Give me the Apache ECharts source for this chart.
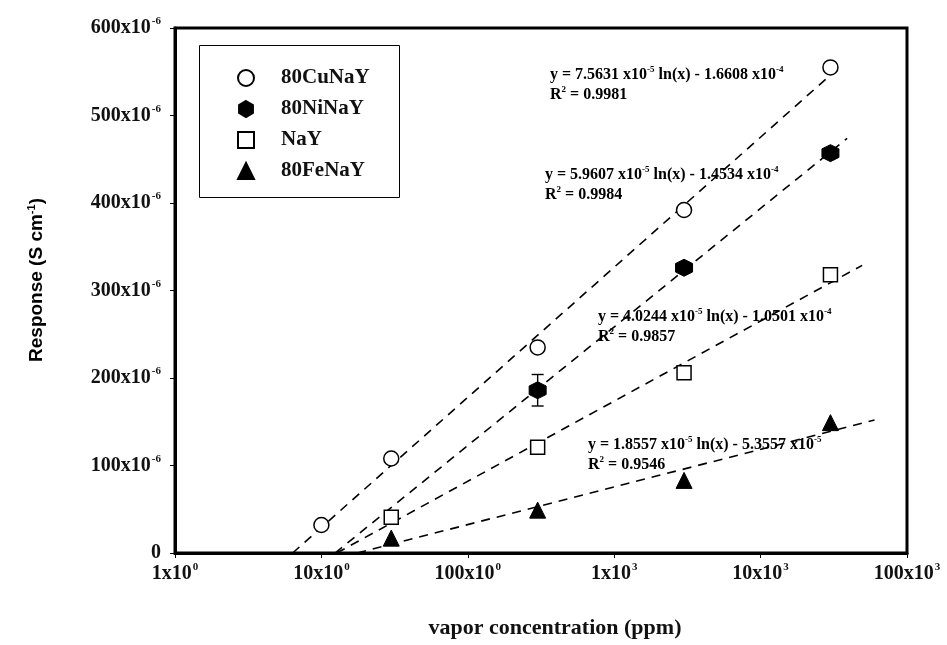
<!DOCTYPE html>
<html>
<head>
<meta charset="utf-8">
<script src="https://cdn.jsdelivr.net/npm/echarts@6/dist/echarts.min.js"></script>
<style>
  html, body { margin: 0; padding: 0; background: #fff; }
  #chart { width: 947px; height: 645px; }
</style>
</head>
<body>
<div id="chart"></div>
<script>
// Vapor concentration (ppm) of each measurement
const concentrations = [10, 30, 300, 3000, 30000];

// Response in units of 1e-6 S cm^-1 (null = not measured)
const cuNaY = [32, 108, 235, 392, 555];
const niNaY = [null, null, 186, 326, 457];
const naY   = [null, 41, 121, 206, 318];
const feNaY = [null, 17, 49, 83, 149];

// Error bar half-widths for 80NiNaY
const niErr = [null, null, 18, 0, 0];

// Concentration at which each dashed trend line stops
const trendEnds = [34600, 39000, 49400, 60000];

// Tick labels: mantissa and power of ten
const yTickExp = '-6';
const xTickLabels = {
  1: ['1x10', '0'], 10: ['10x10', '0'], 100: ['100x10', '0'],
  1000: ['1x10', '3'], 10000: ['10x10', '3'], 100000: ['100x10', '3']
};

const seriesNames = ['80CuNaY', '80NiNaY', 'NaY', '80FeNaY'];
const seriesValues = [cuNaY, niNaY, naY, feNaY];

// Fitted equation annotations: [coefficient, exp, constant, exp, R²]
const equations = [
  ['7.5631', '-5', '1.6608', '-4', '0.9981'],
  ['5.9607', '-5', '1.4534', '-4', '0.9984'],
  ['4.0244', '-5', '1.0501', '-4', '0.9857'],
  ['1.8557', '-5', '5.3557', '-5', '0.9546']
];

const SERIF = '"Liberation Serif", "Times New Roman", serif';
const SANS = '"Liberation Sans", Arial, sans-serif';
const hexPath = 'path://M0,-10 L8.66,-5 L8.66,5 L0,10 L-8.66,5 L-8.66,-5 Z';

function pairs(vals) {
  const out = [];
  vals.forEach((v, i) => { if (v != null) out.push([concentrations[i], v]); });
  return out;
}

// Least-squares fit of y = a ln(x) + b
function logFit(pts) {
  const n = pts.length;
  let sx = 0, sy = 0, sxx = 0, sxy = 0;
  pts.forEach(([x, y]) => {
    const l = Math.log(x);
    sx += l; sy += y; sxx += l * l; sxy += l * y;
  });
  const a = (n * sxy - sx * sy) / (n * sxx - sx * sx);
  const b = (sy - a * sx) / n;
  return { a, b };
}

function trendLine(pts, end) {
  const { a, b } = logFit(pts);
  const start = Math.exp(-b / a);
  return [[start, 0], [end, a * Math.log(end) + b]];
}

const markerStyles = [
  { symbol: 'circle', symbolSize: 15, itemStyle: { color: '#fff', borderColor: '#000', borderWidth: 1.5, opacity: 1 } },
  { symbol: hexPath, symbolSize: 17, itemStyle: { color: '#000', borderColor: '#000', borderWidth: 1, opacity: 1 } },
  { symbol: 'rect', symbolSize: 14, itemStyle: { color: '#fff', borderColor: '#000', borderWidth: 1.5, opacity: 1 } },
  { symbol: 'triangle', symbolSize: 16, itemStyle: { color: '#000', borderColor: '#000', borderWidth: 1, opacity: 1 } }
];

const series = [];
seriesNames.forEach((name, i) => {
  const pts = pairs(seriesValues[i]);
  series.push({
    name: 'fit ' + name,
    type: 'line',
    data: trendLine(pts, trendEnds[i]),
    symbol: 'none',
    silent: true,
    z: 2,
    lineStyle: { color: '#000', width: 1.6, type: [9, 7] }
  });
});

// Error bars drawn as vertical segments with caps
series.push({
  name: 'errors',
  type: 'custom',
  z: 3,
  data: niErr.map((e, i) => (e ? [concentrations[i], niNaY[i], e] : null)).filter(Boolean),
  renderItem: function (params, api) {
    const x = api.value(0), y = api.value(1), e = api.value(2);
    const top = api.coord([x, y + e]);
    const bot = api.coord([x, y - e]);
    const w = 6;
    const st = { stroke: '#000', lineWidth: 1.4 };
    return {
      type: 'group',
      children: [
        { type: 'line', shape: { x1: top[0], y1: top[1], x2: bot[0], y2: bot[1] }, style: st },
        { type: 'line', shape: { x1: top[0] - w, y1: top[1], x2: top[0] + w, y2: top[1] }, style: st },
        { type: 'line', shape: { x1: bot[0] - w, y1: bot[1], x2: bot[0] + w, y2: bot[1] }, style: st }
      ]
    };
  }
});

seriesNames.forEach((name, i) => {
  series.push(Object.assign({
    name: name,
    type: 'scatter',
    data: pairs(seriesValues[i]),
    z: 5
  }, markerStyles[i]));
});

const tickRich = {
  n: { fontFamily: SERIF, fontWeight: 'bold', fontSize: 20, color: '#111', lineHeight: 24 },
  s: { fontFamily: SERIF, fontWeight: 'bold', fontSize: 11, color: '#111', verticalAlign: 'top', lineHeight: 24, padding: [0, 0, 0, 1] }
};
const eqRich = {
  n: { fontFamily: SERIF, fontWeight: 'bold', fontSize: 16, color: '#222', lineHeight: 20 },
  s: { fontFamily: SERIF, fontWeight: 'bold', fontSize: 9, color: '#222', verticalAlign: 'top', lineHeight: 20 }
};

const eqPos = [[550, 65], [545, 165], [598, 307], [588, 435]];
const graphics = [
  { type: 'rect', left: 197, top: 43, shape: { width: 200, height: 152 },
    style: { fill: 'none', stroke: '#000', lineWidth: 1 }, z: 10 },
  { type: 'text', x: 555, y: 628, z: 10,
    style: { text: 'vapor concentration (ppm)', font: 'bold 22px ' + SERIF, fill: '#111',
             align: 'center', verticalAlign: 'middle' } },
  { type: 'text', x: 37, y: 280, rotation: Math.PI / 2, z: 10,
    style: { text: '{n|Response (S cm}{s|-1}{n|)}', align: 'center', verticalAlign: 'middle',
             rich: {
               n: { fontFamily: SANS, fontWeight: 'bold', fontSize: 19, color: '#111', lineHeight: 22 },
               s: { fontFamily: SANS, fontWeight: 'bold', fontSize: 11, color: '#111', verticalAlign: 'top', lineHeight: 22 }
             } } }
];
equations.forEach((eq, i) => {
  graphics.push({
    type: 'text', left: eqPos[i][0], top: eqPos[i][1], z: 10,
    style: {
      text: '{n|y = ' + eq[0] + ' x10}{s|' + eq[1] + '}{n| ln(x) - ' + eq[2] + ' x10}{s|' + eq[3] + '}\n' +
            '{n|R}{s|2}{n| = ' + eq[4] + '}',
      rich: eqRich
    }
  });
});

const chart = echarts.init(document.getElementById('chart'));
chart.setOption({
  backgroundColor: '#fff',
  animation: false,
  grid: {
    left: 175, right: 40, top: 28, bottom: 92,
    show: true, borderColor: '#000', borderWidth: 3, backgroundColor: 'transparent'
  },
  xAxis: {
    type: 'log',
    logBase: 10,
    min: 1,
    max: 100000,
    axisLine: { lineStyle: { color: '#000', width: 3 } },
    axisTick: { show: true, length: 5, lineStyle: { color: '#000', width: 1 } },
    minorTick: { show: false },
    splitLine: { show: false },
    axisLabel: {
      margin: 9,
      rich: tickRich,
      formatter: v => {
        const t = xTickLabels[Math.round(v)];
        return t ? '{n|' + t[0] + '}{s|' + t[1] + '}' : '';
      }
    }
  },
  yAxis: {
    type: 'value',
    min: 0,
    max: 600,
    interval: 100,
    axisLine: { show: true, lineStyle: { color: '#000', width: 3 } },
    axisTick: { show: true, length: 5, lineStyle: { color: '#000', width: 1 } },
    splitLine: { show: false },
    axisLabel: {
      margin: 14,
      rich: tickRich,
      formatter: v => (v === 0 ? '{n|0}' : '{n|' + v + 'x10}{s|' + yTickExp + '}')
    }
  },
  legend: {
    data: seriesNames,
    orient: 'vertical',
    left: 232,
    top: 62,
    itemWidth: 16,
    itemHeight: 16,
    itemGap: 9,
    textStyle: { fontFamily: SERIF, fontWeight: 'bold', fontSize: 21, color: '#111', lineHeight: 22, padding: [0, 0, 0, 22] }
  },
  graphic: graphics,
  series: series
});
</script>
</body>
</html>
